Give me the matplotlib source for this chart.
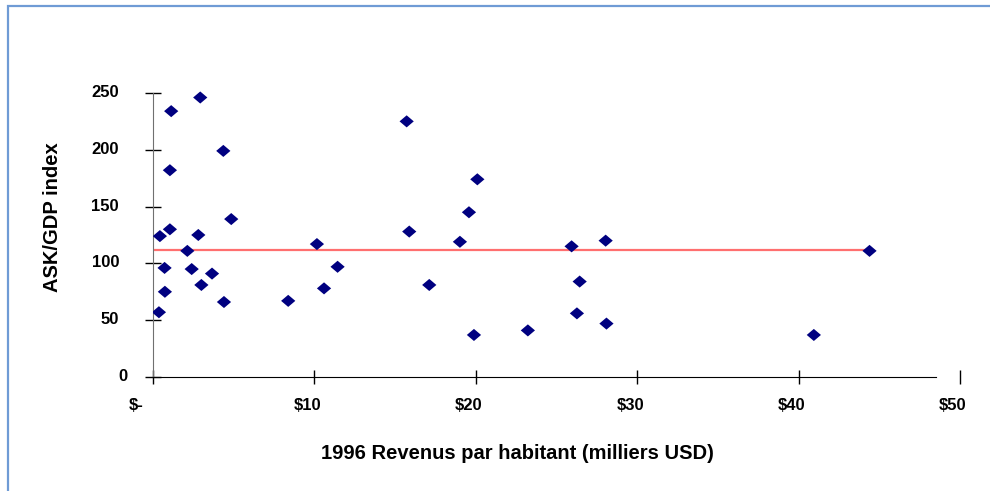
import matplotlib
matplotlib.use("Agg")
import matplotlib.pyplot as plt
from matplotlib.patches import Rectangle
from matplotlib.path import Path
from matplotlib.transforms import ScaledTranslation

plt.rcParams['font.family'] = ['Liberation Sans', 'DejaVu Sans']
plt.rcParams['font.weight'] = 'bold'

# revenu par habitant (milliers USD) et indice ASK/GDP
revenu = [2.93, 1.13, 4.36, 1.05, 4.85, 1.05, 0.43, 2.81, 2.13, 0.72,
          2.40, 3.66, 3.00, 0.74, 4.40, 0.37, 8.38,
          15.72, 20.10, 19.58, 15.88, 10.16, 19.02, 25.94, 28.05, 11.44,
          17.12, 10.60, 26.44, 26.27, 28.10, 23.23, 19.89,
          44.40, 40.95]
indice = [246, 234, 199, 182, 139, 130, 124, 125, 111, 96,
          95, 91, 81, 75, 66, 57, 67,
          225, 174, 145, 128, 117, 119, 115, 120, 97,
          81, 78, 84, 56, 47, 41, 37,
          111, 37]
moyenne = 112

xticks = [0, 10, 20, 30, 40, 50]
xlabels = ['$-', '$10', '$20', '$30', '$40', '$50']
yticks = [0, 50, 100, 150, 200, 250]

fig = plt.figure(figsize=(9.9, 4.91), dpi=100)
ax = fig.add_axes([0.1545, 0.2322, 0.8314, 0.6016])

# losange un peu aplati
losange = Path([(-1, 0), (0, 0.85), (1, 0), (0, -0.85), (-1, 0)],
               [Path.MOVETO, Path.LINETO, Path.LINETO, Path.LINETO, Path.CLOSEPOLY])

ax.plot([0, max(revenu)], [moyenne, moyenne], color='#ff6f6f', lw=1.6, zorder=2)
ax.scatter(revenu, indice, marker=losange, s=105, color='#000080',
           edgecolors='none', zorder=3)

ax.set_xlim(0, 51)
ax.set_ylim(0, 260)

for s in ['top', 'right']:
    ax.spines[s].set_visible(False)
ax.spines['left'].set_bounds(0, 250)
ax.spines['left'].set_color('#707070')
ax.spines['bottom'].set_bounds(0, 48.5)
ax.spines['bottom'].set_color('black')

ax.set_xticks(xticks)
ax.set_xticklabels(xlabels)
ax.set_yticks(yticks)
ax.tick_params(axis='x', direction='inout', length=10, width=1, pad=10, labelsize=12)
ax.tick_params(axis='y', direction='inout', length=12, width=1, pad=17, labelsize=12)

# décalage des étiquettes (format comptable)
for lab, val in zip(ax.get_xticklabels(), xticks):
    dx = -17 if val == 0 else -7
    lab.set_transform(lab.get_transform() + ScaledTranslation(dx / 100, 0, fig.dpi_scale_trans))
for lab, val in zip(ax.get_yticklabels(), yticks):
    dx = 6 if val == 0 else -2
    lab.set_transform(lab.get_transform() + ScaledTranslation(dx / 100, 2 / 100, fig.dpi_scale_trans))

ax.set_xlabel('1996 Revenus par habitant (milliers USD)', fontsize=14.5, fontweight='bold')
ax.xaxis.set_label_coords(0.443, -0.228)
ax.set_ylabel('ASK/GDP index', fontsize=14.5, fontweight='bold')
ax.yaxis.set_label_coords(-0.110, 0.54)

# cadre
fig.patches.append(Rectangle((8 / 990, -0.1), 1.2, 1.1 - 6 / 491, transform=fig.transFigure,
                             fill=False, edgecolor='#6f9bd5', lw=1.6))

fig.savefig('out.png', dpi=100)
